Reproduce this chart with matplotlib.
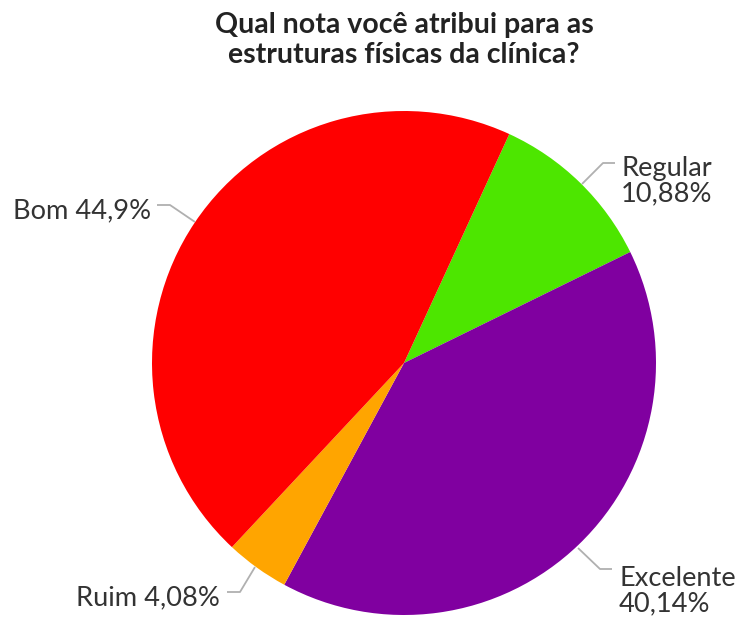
import matplotlib
matplotlib.use("Agg")
import matplotlib.pyplot as plt

categories = ["Regular", "Excelente", "Ruim", "Bom"]
values = [10.88, 40.14, 4.08, 44.9]
labels = ["Regular\n10,88%", "Excelente\n40,14%", "Ruim 4,08%", "Bom 44,9%"]
colors = ["#4de600", "#8000a0", "#ffa500", "#ff0000"]

plt.rcParams['font.family'] = ['Lato', 'DejaVu Sans']

W, H = 740, 618
fig = plt.figure(figsize=(W / 100, H / 100), dpi=100)
ax = fig.add_axes([0, 0, 1, 1])
cx, cy, R = 404, 363, 252

wedges, _ = ax.pie(values, colors=colors, startangle=65.3, counterclock=False,
                   radius=1, center=(0, 0), wedgeprops=dict(linewidth=0))
ax.set_xlim(-cx / R, (W - cx) / R)
ax.set_ylim(-(H - cy) / R, cy / R)
ax.set_aspect('equal')
ax.axis('off')


def p(x, y):
    return ((x - cx) / R, (cy - y) / R)


# leader lines (pixel coordinates converted to data)
leaders = {
    "Regular": [(582, 184), (603, 163), (615, 163)],
    "Excelente": [(578, 548), (600, 569), (612, 569)],
    "Ruim": [(255, 567), (240, 592), (227, 592)],
    "Bom": [(195, 222), (170, 205), (157, 205)],
}
for k, pts in leaders.items():
    xs, ys = zip(*[p(*q) for q in pts])
    ax.plot(xs, ys, color="#b0b0b0", lw=1.3, solid_capstyle='butt')

tc = "#333333"
fs = 19.6
ax.text(*p(621, 181), labels[0], ha='left', va='center', fontsize=fs, color=tc, linespacing=1.0)
ax.text(*p(619, 591), labels[1], ha='left', va='center', fontsize=fs, color=tc, linespacing=1.0)
ax.text(*p(220, 598), labels[2], ha='right', va='center', fontsize=fs, color=tc)
ax.text(*p(151, 211), labels[3], ha='right', va='center', fontsize=fs, color=tc)

fig.text(404 / W, 1 - 40 / H, "Qual nota você atribui para as\nestruturas físicas da clínica?",
         ha='center', va='center', fontsize=20.5, fontweight='bold', color="#222222",
         linespacing=1.2)

fig.savefig("out.png", dpi=100, facecolor="white")
